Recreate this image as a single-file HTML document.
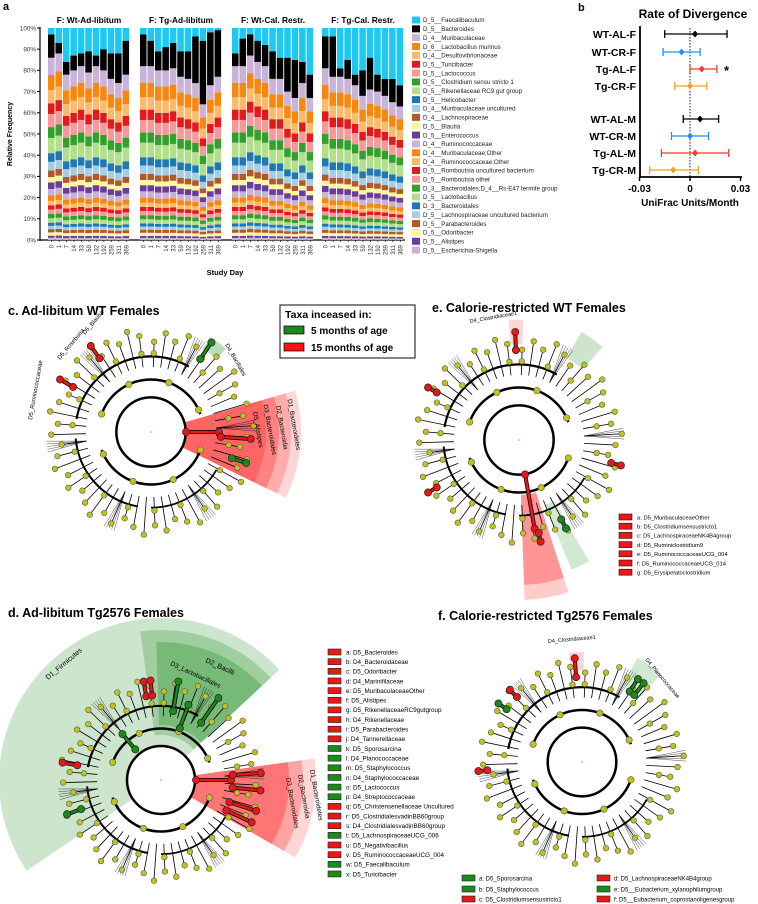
<!DOCTYPE html>
<html><head><meta charset="utf-8"><style>
body{margin:0;background:#fff;font-family:"Liberation Sans",Arial,sans-serif;}
svg{display:block}
text{font-family:"Liberation Sans",Arial,sans-serif}
</style></head><body>
<svg id="fig" width="758" height="904" viewBox="0 0 758 904"></svg>
<script>
// ===== Panel a data =====
const groups = ["F: Wt-Ad-libitum","F: Tg-Ad-libitum","F: Wt-Cal. Restr.","F: Tg-Cal. Restr."];
const days = ["0","1","7","14","33","59","132","192","259","311","369"];
const faecal = [
 [3,7,16,13,12,11,13,10,12,12,6],
 [3,6,11,9,7,11,11,4,6,2,1],
 [12,5,3,6,8,11,14,14,15,16,22],
 [4,4,19,15,22,20,14,22,24,24,27]];
const bacter = [
 [11,5,6,7,6,10,5,10,12,14,16],
 [15,12,9,11,12,12,13,22,30,25,22],
 [6,13,10,10,10,13,10,16,18,10,11],
 [15,19,4,9,5,12,15,8,8,11,10]];
const otherShares = [8,7,6,5,6,5,7,4,4,3,2.5,3,3,2.5,2,2,2,2,2,1.5,1.5,1.5,1.5,1,1];
const taxa = ["D_5__Faecalibaculum","D_5__Bacteroides","D_4__Muribaculaceae","D_6__Lactobacillus murinus","D_4__Desulfovibrionaceae","D_5__Turicibacter","D_5__Lactococcus","D_5__Clostridium sensu stricto 1","D_5__Rikenellaceae RC9 gut group","D_5__Helicobacter","D_4__Muribaculaceae uncultured","D_4__Lachnospiraceae","D_5__Blautia","D_5__Enterococcus","D_4__Ruminococcaceae","D_4__Muribaculaceae;Other","D_4__Ruminococcaceae;Other","D_5__Romboutsia uncultured bacterium","D_5__Romboutsia other","D_3__Bacteroidales;D_4__Rs-E47 termite group","D_5__Lactobacillus","D_3__Bacteroidales","D_5__Lachnospiraceae uncultured bacterium","D_5__Parabacteroides","D_5__Odoribacter","D_5__Alistipes","D_5__Escherichia-Shigella"];
const taxaColors = ["#1ec8f0","#000000","#c9b3d9","#f7870f","#fcbb6c","#e31a1c","#f59a9a","#33a02c","#b2df8a","#1f78b4","#a6cee3","#b15928","#fff799","#6a3d9a","#cab2d6","#f7870f","#fcbb6c","#e31a1c","#f59a9a","#33a02c","#b2df8a","#1f78b4","#a6cee3","#b15928","#fff799","#6a3d9a","#cab2d6"];
// ===== Panel b data =====
const divLabels = ["WT-AL-F","WT-CR-F","Tg-AL-F","Tg-CR-F","WT-AL-M","WT-CR-M","Tg-AL-M","Tg-CR-M"];
const divMean = [0.003,-0.005,0.007,0.0,0.006,0.0,0.003,-0.010];
const divLow = [-0.015,-0.016,0.0,-0.009,-0.004,-0.011,-0.017,-0.024];
const divHigh = [0.022,0.006,0.016,0.010,0.017,0.011,0.023,0.005];
const divColors = ["#000","#1e90ff","#f03c28","#f5a020","#000","#1e90ff","#f03c28","#f5a020"];
const divTicks = [-0.03,0,0.03];

const NS="http://www.w3.org/2000/svg";
const svg=document.getElementById('fig');
function mk(tag,attrs,parent){const e=document.createElementNS(NS,tag);for(const k in attrs)e.setAttribute(k,attrs[k]);(parent||svg).appendChild(e);return e;}
function txt(s,x,y,size,opts,parent){const e=mk('text',Object.assign({x:x,y:y,'font-size':size},opts||{}),parent);e.textContent=s;return e;}

// ---------- Panel a ----------
const gA=mk('g',{});


let t=txt('a',3,10,11,{'font-weight':'bold'},gA);

const y0=240,y100=28;
const ya=v=>y0-(v/100)*(y0-y100);
const gx0=[48,140,232,322], gw=82;
mk('line',{x1:40,y1:y100-1,x2:40,y2:y0+1,stroke:'#000','stroke-width':1.2},gA);
mk('line',{x1:40,y1:y0,x2:405,y2:y0,stroke:'#000','stroke-width':1.2},gA);
for(let v=0;v<=100;v+=10){
  mk('line',{x1:37,y1:ya(v),x2:40,y2:ya(v),stroke:'#000','stroke-width':1},gA);
  const tl=txt(v+'%',36,ya(v)+2.3,6.3,{'text-anchor':'end',fill:'#333'},gA);
  
}
t=txt('Relative Frequency',12,134,7,{'font-weight':'bold','text-anchor':'middle',transform:'rotate(-90 12 134)'},gA);

t=txt('Study Day',225,275,7.5,{'font-weight':'bold','text-anchor':'middle'},gA);

const shareSum=otherShares.reduce((a,b)=>a+b,0);
groups.forEach((gname,gi)=>{
  const bw=gw/days.length;
  t=txt(gname,gx0[gi]+gw/2,23,8.3,{'font-weight':'bold','text-anchor':'middle'},gA);
  
  days.forEach((d,di)=>{
    const x=gx0[gi]+di*bw;
    const f=faecal[gi][di], b=bacter[gi][di], rest=100-f-b;
    let cum=0;
    for(let k=otherShares.length-1;k>=0;k--){
      const h=rest*otherShares[k]/shareSum;
      const r=mk('rect',{x:x,y:ya(cum+h),width:bw-0.9,height:Math.max(0,ya(cum)-ya(cum+h)),fill:taxaColors[k+2]},gA);
      
      cum+=h;
    }
    let r=mk('rect',{x:x,y:ya(cum+b),width:bw-0.9,height:ya(cum)-ya(cum+b),fill:'#000'},gA);
    
    cum+=b;
    r=mk('rect',{x:x,y:ya(100),width:bw-0.9,height:ya(cum)-ya(100),fill:taxaColors[0]},gA);
    
    mk('line',{x1:x+bw/2,y1:y0,x2:x+bw/2,y2:y0+2,stroke:'#000','stroke-width':0.6},gA);
    const dl=txt(d,x+bw/2+2,y0+5,6,{'text-anchor':'end',fill:'#333',transform:`rotate(-90 ${x+bw/2+2} ${y0+5})`},gA);
    
  });
});
taxa.forEach((nm,i)=>{
  const y=20+i*8.85;
  const r=mk('rect',{x:412,y:y-3.5,width:8,height:7,fill:taxaColors[i]},gA);
  
  const l=txt(nm,423,y+2.2,6.2,{fill:'#222'},gA);
  
});

// ---------- Panel b ----------
const gB=mk('g',{});


t=txt('b',578,11,11,{'font-weight':'bold'},gB);

t=txt('Rate of Divergence',693,18,12,{'font-weight':'bold','text-anchor':'middle'},gB);

const xb=v=>690+v/0.03*50.5;
const rowY=[34,52,69,86,119,136,153,170];
mk('line',{x1:640,y1:26,x2:640,y2:177,stroke:'#000','stroke-width':1.8},gB);
mk('line',{x1:640,y1:177,x2:742,y2:177,stroke:'#000','stroke-width':1.8},gB);
mk('line',{x1:xb(0),y1:28,x2:xb(0),y2:177,stroke:'#000','stroke-width':0.9,'stroke-dasharray':'1.5,1.5'},gB);
divTicks.forEach(v=>{
  mk('line',{x1:xb(v),y1:177,x2:xb(v),y2:181,stroke:'#000','stroke-width':1.5},gB);
  const l=txt(v===0?'0':v.toFixed(2),xb(v),192,10,{'font-weight':'bold','text-anchor':'middle'},gB);
  
});
t=txt('UniFrac Units/Month',690,206,10,{'font-weight':'bold','text-anchor':'middle'},gB);

divLabels.forEach((lab,i)=>{
  const y=rowY[i],c=divColors[i];
  const l=txt(lab,636,y+3.8,10.5,{'font-weight':'bold','text-anchor':'end'},gB);
  
  const g=mk('g',{},gB);
  
  mk('line',{x1:xb(divLow[i]),y1:y,x2:xb(divHigh[i]),y2:y,stroke:c,'stroke-width':1.3},g);
  mk('line',{x1:xb(divLow[i]),y1:y-4,x2:xb(divLow[i]),y2:y+4,stroke:c,'stroke-width':1.3},g);
  mk('line',{x1:xb(divHigh[i]),y1:y-4,x2:xb(divHigh[i]),y2:y+4,stroke:c,'stroke-width':1.3},g);
  const m=xb(divMean[i]);
  const p=mk('polygon',{points:`${m},${y-3.5} ${m+3},${y} ${m},${y+3.5} ${m-3},${y}`,fill:c},g);
  
});
t=txt('*',724,75,13,{'font-weight':'bold'},gB);


// ---------- Cladograms ----------
function wedge(g,cx,cy,r0,r1,a0,a1,fill,op){
  const rad=Math.PI/180;
  const p=(r,a)=>[cx+r*Math.cos(a*rad),cy+r*Math.sin(a*rad)];
  const [x1,y1]=p(r1,a0),[x2,y2]=p(r1,a1),[x3,y3]=p(r0,a1),[x4,y4]=p(r0,a0);
  const lg=(a1-a0)>180?1:0;
  return mk('path',{d:`M${x4},${y4} L${x1},${y1} A${r1},${r1} 0 ${lg} 1 ${x2},${y2} L${x3},${y3} A${r0},${r0} 0 ${lg} 0 ${x4},${y4} Z`,fill:fill,'fill-opacity':op},g);
}
function arc(g,cx,cy,r,a0,a1,w){
  const rad=Math.PI/180;
  const x1=cx+r*Math.cos(a0*rad),y1=cy+r*Math.sin(a0*rad),x2=cx+r*Math.cos(a1*rad),y2=cy+r*Math.sin(a1*rad);
  mk('path',{d:`M${x1},${y1} A${r},${r} 0 ${(a1-a0)>180?1:0} 1 ${x2},${y2}`,fill:'none',stroke:'#000','stroke-width':w},g);
}
function clado(name,cx,cy,R,sectors,hl){
  const g=mk('g',{});
  
  
  sectors.forEach(s=>{const w=wedge(g,cx,cy,s[0],s[1],s[2],s[3],s[4],s[5]);});
  const rad=Math.PI/180;
  mk('circle',{cx:cx,cy:cy,r:R*0.33,fill:'none',stroke:'#000','stroke-width':2.5},g);
  arc(g,cx,cy,R*0.5,200,340,2.5);
  arc(g,cx,cy,R*0.5,20,160,2.5);
  arc(g,cx,cy,R*0.72,190,300,2.2);
  arc(g,cx,cy,R*0.72,100,175,2);
  arc(g,cx,cy,R*0.72,30,90,1.8);
  for(let a=-88;a<268;a+=6.5){
    const ia=Math.round((a+88)/6.5);
    const fan=ia%9===4;
    const r1=R*(0.86+(ia*3%5)*0.03);
    const x0=cx+R*0.62*Math.cos(a*rad),y0=cy+R*0.62*Math.sin(a*rad);
    const x1=cx+r1*Math.cos(a*rad),y1=cy+r1*Math.sin(a*rad);
    mk('line',{x1:x0,y1:y0,x2:x1,y2:y1,stroke:'#000','stroke-width':0.8},g);
    if(fan){for(let k=-2;k<=2;k++){const b=a+k*1.5;mk('line',{x1:x0,y1:y0,x2:cx+R*Math.cos(b*rad),y2:cy+R*Math.sin(b*rad),stroke:'#000','stroke-width':0.35},g);}}
    mk('circle',{cx:x1,cy:y1,r:2.8,fill:'#c2c21a',stroke:'#555','stroke-width':0.6},g);
    if(ia%3===0)mk('circle',{cx:cx+R*0.75*Math.cos(a*rad),cy:cy+R*0.75*Math.sin(a*rad),r:2.8,fill:'#c2c21a',stroke:'#555','stroke-width':0.6},g);
  }
  for(let a=-70;a<260;a+=45){mk('circle',{cx:cx+R*0.5*Math.cos(a*rad),cy:cy+R*0.5*Math.sin(a*rad),r:3.2,fill:'#c2c21a',stroke:'#555','stroke-width':0.6},g);}
  hl.forEach(h=>{
    const x0=cx+h[0]*Math.cos(h[2]*rad),y0=cy+h[0]*Math.sin(h[2]*rad),x1=cx+h[1]*Math.cos(h[2]*rad),y1=cy+h[1]*Math.sin(h[2]*rad);
    mk('line',{x1:x0,y1:y0,x2:x1,y2:y1,stroke:'#000','stroke-width':4},g);
    mk('line',{x1:x0,y1:y0,x2:x1,y2:y1,stroke:h[3],'stroke-width':2.5},g);
    const n1=mk('circle',{cx:x0,cy:y0,r:3.6,fill:h[3],stroke:'#222','stroke-width':0.7},g);
    
    mk('circle',{cx:x1,cy:y1,r:3.6,fill:h[3],stroke:'#222','stroke-width':0.7},g);
  });
  mk('circle',{cx:cx,cy:cy,r:0.8,fill:'#aa0'},g);
  return g;
}
const RED='#e81818',GRN='#1a8a1a';
// c
t=txt('c. Ad-libitum WT Females',8,315,12.5,{'font-weight':'bold'});

clado('cladogram-c',151,432,105,[[35,150,-16,26,'#ff3030',0.2],[35,140,-16,26,'#ff3030',0.25],[35,128,-16,26,'#ff3030',0.35],[35,115,-16,26,'#ff3030',0.35],[98,112,-58,-48,GRN,0.3]],
 [[35,68,0,RED],[70,100,4,RED],[85,100,18,GRN],[88,108,-56,GRN],[90,105,-150,RED],[90,105,-125,RED]]);
[['D1_Bacteroidetes',292,425],['D2_Bacteroidia',280,428],['D3_Bacteroidales',268,430],['D5_Alistipes',256,430]].forEach(a=>{txt(a[0],a[1],a[2],6.5,{'text-anchor':'middle',transform:`rotate(80 ${a[1]} ${a[2]})`});});
txt('D4_Bacillales',225,345,6,{transform:'rotate(60 225 345)'});
txt('D5_Blautia',85,335,6,{transform:'rotate(-50 85 335)'});
txt('D5_Roseburia',60,360,6,{transform:'rotate(-50 60 360)'});
txt('D5_Ruminococcaceae',32,420,6,{transform:'rotate(-80 32 420)'});
const lb=mk('g',{});
mk('rect',{x:280,y:305,width:135,height:53,fill:'#fff',stroke:'#333','stroke-width':1.2},lb);
txt('Taxa inceased in:',285,318,10.5,{'font-weight':'bold'},lb);
mk('rect',{x:284,y:326,width:20,height:8,fill:GRN,stroke:'#000','stroke-width':0.7},lb);
txt('5 months of age',311,334,10,{'font-weight':'bold'},lb);
mk('rect',{x:284,y:343,width:20,height:8,fill:'#ff1010',stroke:'#000','stroke-width':0.7},lb);
txt('15 months of age',311,351,10,{'font-weight':'bold'},lb);
// e
t=txt('e. Calorie-restricted WT Females',432,312,12.5,{'font-weight':'bold'});

clado('cladogram-e',519,440,105,[[55,160,72,88,'#ff3030',0.25],[55,145,72,88,'#ff3030',0.35],[70,140,60,68,GRN,0.2],[96,120,-95,-88,'#ff3030',0.2],[95,125,-60,-48,GRN,0.22]],
 [[35,90,80,RED],[95,104,78,RED],[90,108,-92,RED],[95,105,-150,RED],[95,105,150,RED],[95,105,14,RED],[90,100,62,GRN]]);
const eL=["a: D5_MuribaculaceaeOther","b: D5_Clostridiumsensustricto1","c: D5_LachnospiraceaeNK4B4group","d: D5_Ruminiclostridium9","e: D5_RuminococcaceaeUCG_004","f: D5_RuminococcaceaeUCG_014","g: D5_Erysipelatoclostridium"];
eL.forEach((s,i)=>{const y=517+i*9.2;mk('rect',{x:619,y:y-3,width:13,height:6,fill:RED,stroke:'#400','stroke-width':0.6});const l=txt(s,637,y+2.3,5.8);});
txt('D4_Clostridiaceae1',470,323,5.5,{transform:'rotate(-10 470 323)'});
// d
t=txt('d. Ad-libitum Tg2576 Females',8,617,12.5,{'font-weight':'bold'});

clado('cladogram-d',161,780,103,[[35,162,146,317,GRN,0.22],[45,150,262,317,GRN,0.25],[55,138,268,317,GRN,0.3],[35,155,-8,30,'#ff3030',0.2],[35,142,-8,30,'#ff3030',0.3],[35,128,-8,30,'#ff3030',0.4]],
 [[35,70,0,RED],[72,100,-4,RED],[72,100,6,RED],[72,100,18,RED],[72,100,25,RED],[55,80,-70,GRN],[70,100,-80,GRN],[70,100,-55,GRN],[85,100,-100,RED],[85,100,-96,RED],[85,100,190,RED],[85,100,160,GRN],[40,60,-130,GRN]]);
txt('D1_Firmicutes',48,680,7,{transform:'rotate(-40 48 680)'});
txt('D2_Bacilli',205,662,7,{transform:'rotate(25 205 662)'});
txt('D3_Lactobacillales',170,665,6.5,{transform:'rotate(25 170 665)'});
txt('D1_Bacteroidetes',310,770,6.5,{transform:'rotate(80 310 770)'});
txt('D2_Bacteroidia',298,775,6.5,{transform:'rotate(80 298 775)'});
txt('D3_Bacteroidales',286,778,6.5,{transform:'rotate(80 286 778)'});
const dL=["a: D5_Bacteroides","b: D4_Bacteroidaceae","c: D5_Odoribacter","d: D4_Marinifilaceae","e: D5_MuribaculaceaeOther","f: D5_Alistipes","g: D5_RikenellaceaeRC9gutgroup","h: D4_Rikenellaceae","i: D5_Parabacteroides","j: D4_Tannerellaceae","k: D5_Sporosarcina","l: D4_Planococcaceae","m: D5_Staphylococcus","n: D4_Staphylococcaceae","o: D5_Lactococcus","p: D4_Streptococcaceae","q: D5_Christensenellaceae Uncultured","r: D5_ClostridialesvadinBB60group","s: D4_ClostridialesvadinBB60group","t: D5_LachnospiraceaeUCG_006","u: D5_Negativibacillus","v: D5_RuminococcaceaeUCG_004","w: D5_Faecalibaculum","x: D5_Turicibacter"];
const dC="RRRRRRRRRRGGGGGGRRRGRRGG";
dL.forEach((s,i)=>{const y=652+i*9.65;mk('rect',{x:328,y:y-3,width:13,height:6,fill:dC[i]==='R'?RED:GRN,stroke:'#222','stroke-width':0.6});const l=txt(s,346,y+2.3,6.3);});
// f
t=txt('f. Calorie-restricted Tg2576 Females',438,620,12.5,{'font-weight':'bold'});

clado('cladogram-f',582,762,104,[[92,110,-97,-89,'#ff3030',0.2],[88,118,-62,-48,GRN,0.2]],
 [[85,104,-94,RED],[85,100,-56,GRN],[85,100,-52,GRN],[92,102,-135,RED],[92,102,-145,GRN],[95,104,175,RED]]);
txt('D4_Clostridiaceae1',548,643,5.5,{transform:'rotate(-5 548 643)'});
txt('D4_Planococcaceae',645,660,5.5,{transform:'rotate(50 645 660)'});
const fL=[["a: D5_Sporosarcina",GRN,462,878],["b: D5_Staphylococcus",GRN,462,889],["c: D5_Clostridiumsensustricto1",RED,462,899],["d: D5_LachnospiraceaeNK4B4group",RED,597,878],["e: D5__Eubacterium_xylanophilumgroup",GRN,597,889],["f: D5__Eubacterium_coprostanoligenesgroup",RED,597,899]];
fL.forEach(a=>{mk('rect',{x:a[2],y:a[3]-3,width:13,height:6,fill:a[1],stroke:'#222','stroke-width':0.6});const l=txt(a[0],a[2]+17,a[3]+2.3,6);});
</script>
</body></html>
